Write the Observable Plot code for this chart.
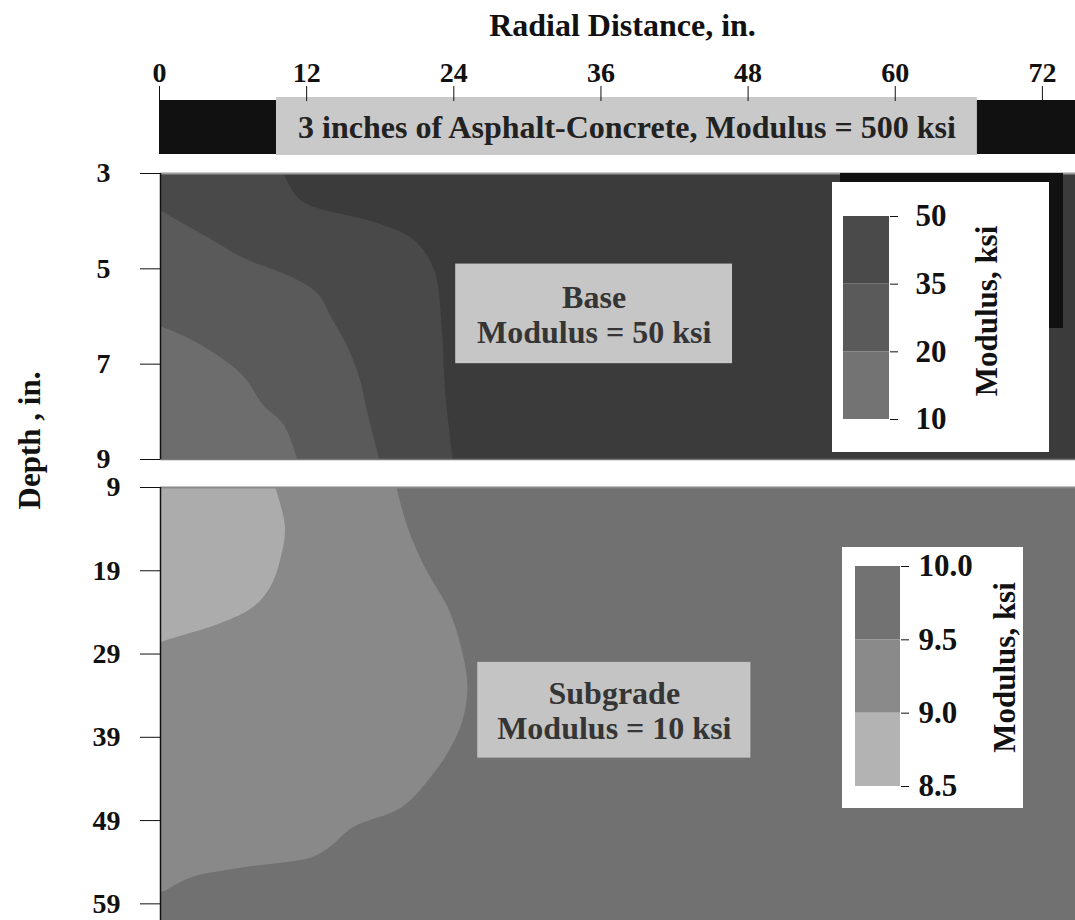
<!DOCTYPE html>
<html>
<head>
<meta charset="utf-8">
<script src="https://cdn.jsdelivr.net/npm/d3@7"></script>
<script src="https://cdn.jsdelivr.net/npm/@observablehq/plot@0.6"></script>
<style>
html, body { margin: 0; padding: 0; background: #fff; }
#chart { position: relative; width: 1075px; height: 920px; overflow: hidden; background: #fff; }
#chart > * { position: absolute; }
#chart svg { overflow: visible; }
#topPlot g[aria-label="x-axis tick label"],
#basePlot g[aria-label="y-axis tick label"],
#subPlot g[aria-label="y-axis tick label"] { font-size: 28px !important; font-weight: bold; }
#topPlot g[aria-label="x-axis tick label"] text,
#basePlot g[aria-label="y-axis tick label"] text,
#subPlot g[aria-label="y-axis tick label"] text { font-size: 28px !important; }
</style>
</head>
<body>
<div id="chart"></div>
<script>
// ---------- axes ----------
const radialTicks = [0, 12, 24, 36, 48, 60, 72];
const radialDomain = [0, 74.7];
const baseDepthTicks = [3, 5, 7, 9];
const baseDepthDomain = [3, 9];
const subDepthTicks = [9, 19, 29, 39, 49, 59];
const subDepthDomain = [9, 61];

// ---------- text ----------
const xTitle = "Radial Distance, in.";
const yTitle = "Depth , in.";
const asphaltLabel = "3 inches of Asphalt-Concrete, Modulus = 500 ksi";
const baseLabel = "Base\nModulus = 50 ksi";
const subLabel = "Subgrade\nModulus = 10 ksi";
const legendTitle = "Modulus, ksi";

// ---------- base layer contour boundaries (depth in., radial distance in.) ----------
const base50Depth  = [3.0, 3.57, 4.06, 4.42, 5.05, 6.25, 7.65, 9.0];
const base50Radial = [10.1, 11.5, 17.9, 20.8, 22.4, 23.0, 23.3, 23.9];
const base35Depth  = [3.78, 4.35, 4.77, 5.20, 5.54, 6.04, 6.59, 7.31, 8.0, 9.0];
const base35Radial = [0, 3.9, 6.7, 10.9, 12.9, 14.0, 15.2, 16.3, 16.9, 17.9];
const base20Depth  = [6.21, 6.53, 7.23, 7.86, 8.28, 9.0];
const base20Radial = [0, 2.8, 6.7, 8.4, 10.1, 11.2];

// ---------- subgrade contour boundaries ----------
const sub95Depth  = [9.0, 13.8, 18.6, 23.8, 29.0, 33.0, 37.0, 40.6, 44.2, 47.5, 49.9, 52.3, 53.5, 54.7, 55.9, 57.4, 57.7];
const sub95Radial = [19.3, 20.2, 21.6, 23.6, 24.7, 25.1, 24.7, 23.6, 21.9, 19.7, 15.7, 13.8, 12.3, 6.7, 2.5, 0.5, 0];
const sub90Depth  = [9.0, 13.8, 17.8, 21.0, 23.4, 25.3, 27.4, 27.7];
const sub90Radial = [9.4, 10.2, 9.8, 9.0, 7.6, 5.0, 0.5, 0];

// ---------- annotation boxes (data units) ----------
const asphaltBoxX = [9.54, 66.7];
const baseBoxX = [24.1, 46.7];
const baseBoxY = [4.9, 6.99];
const subBoxX = [25.9, 48.2];
const subBoxY = [30.0, 41.5];

// ---------- legends ----------
const baseLegendTicks = ["10", "20", "35", "50"];
const subLegendTicks = ["8.5", "9.0", "9.5", "10.0"];

// ---------- styles ----------
const baseFill = {c10: "#6d6d6d", c20: "#5a5a5a", c35: "#494949", c50: "#3b3b3b"};
const baseLegendFill = ["#737373", "#5a5a5a", "#4a4a4a"];
const subFill = {c85: "#acacac", c90: "#898989", c95: "#717171"};
const subLegendFill = ["#b3b3b3", "#8a8a8a", "#727272"];
const FONT = '"Liberation Serif", "Times New Roman", Times, serif';
const svgStyle = {fontFamily: FONT, fontWeight: "bold", color: "#111", background: "transparent", overflow: "visible"};

const pairs = (ys, xs) => ys.map((depth, i) => ({depth, radial: xs[i]}));
const chart = document.getElementById("chart");
function place(el, left, top, id) {
  el.style.position = "absolute";
  el.style.left = left + "px";
  el.style.top = top + "px";
  if (id) el.id = id;
  chart.appendChild(el);
}

// ---------- top axis + asphalt layer ----------
const topPlot = Plot.plot({
  width: 1075, height: 154,
  marginLeft: 159, marginRight: 0, marginTop: 100, marginBottom: 0,
  x: {domain: radialDomain},
  style: svgStyle,
  marks: [
    Plot.rect([radialDomain], {x1: d => d[0], x2: d => d[1], fill: "#111"}),
    Plot.rect([asphaltBoxX], {x1: d => d[0], x2: d => d[1], fill: "#c9c9c9", insetTop: -3, insetBottom: -1}),
    Plot.text([asphaltLabel], {x: (asphaltBoxX[0] + asphaltBoxX[1]) / 2, frameAnchor: "middle", fontSize: 32, fontWeight: "bold", fill: "#222", fontFamily: FONT}),
    Plot.axisX({anchor: "top", ticks: radialTicks, tickSize: 15, tickPadding: 4, fontSize: 28, fontWeight: "bold", fontFamily: FONT, label: null}),
    Plot.text([xTitle], {frameAnchor: "top", lineAnchor: "middle", dx: 5, dy: -75, fontSize: 32, fontWeight: "bold", fill: "#111", fontFamily: FONT})
  ]
});
place(topPlot, 0, 0, "topPlot");

// ---------- base panel ----------
const basePlot = Plot.plot({
  width: 1075, height: 286,
  marginLeft: 160, marginRight: 0, marginTop: 0, marginBottom: 0,
  x: {domain: radialDomain, axis: null},
  y: {domain: baseDepthDomain, reverse: true, axis: null},
  style: svgStyle,
  marks: [
    Plot.frame({fill: baseFill.c50}),
    Plot.areaX(pairs(base50Depth, base50Radial), {x: "radial", y: "depth", fill: baseFill.c35, curve: "catmull-rom", clip: true}),
    Plot.areaX(pairs(base35Depth, base35Radial), {x: "radial", y: "depth", fill: baseFill.c20, curve: "catmull-rom", clip: true}),
    Plot.areaX(pairs(base20Depth, base20Radial), {x: "radial", y: "depth", fill: baseFill.c10, curve: "catmull-rom", clip: true}),
    Plot.rect([baseLabel], {x1: baseBoxX[0], x2: baseBoxX[1], y1: baseBoxY[0], y2: baseBoxY[1], fill: "#c6c6c6"}),
    Plot.text([baseLabel], {x: (baseBoxX[0] + baseBoxX[1]) / 2, y: (baseBoxY[0] + baseBoxY[1]) / 2, fontSize: 32, lineHeight: 1.1, fontWeight: "bold", fill: "#353535", fontFamily: FONT}),
    Plot.ruleY([baseDepthDomain[0]], {stroke: "#9a9a9a", strokeWidth: 2}),
    Plot.ruleY([baseDepthDomain[1]], {stroke: "#777", strokeWidth: 1.5}),
    Plot.axisY({anchor: "left", ticks: baseDepthTicks, tickFormat: d => String(d), tickSize: 20, tickPadding: 30, fontSize: 28, fontWeight: "bold", fontFamily: FONT, label: null}),
    Plot.ruleX([0], {stroke: "#111", strokeWidth: 1.5}),
    Plot.text([yTitle], {frameAnchor: "left", textAnchor: "middle", dx: -130, dy: 124, rotate: -90, fontSize: 31, fontWeight: "bold", fill: "#111", fontFamily: FONT})
  ]
});
place(basePlot, 0, 173, "basePlot");

// dark frame behind base legend
const shadow = document.createElement("div");
shadow.style.width = "223px";
shadow.style.height = "155px";
shadow.style.background = "#111";
place(shadow, 840, 173);

// ---------- base legend ----------
const baseLegend = Plot.plot({
  width: 217, height: 270,
  marginLeft: 11, marginRight: 160, marginTop: 34, marginBottom: 33,
  x: {domain: [0, 1], axis: null},
  y: {domain: [0, baseLegendTicks.length - 1], axis: null},
  style: {...svgStyle, background: "#fff"},
  marks: [
    Plot.rect(baseLegendFill.map((fill, i) => ({lo: i, hi: i + 1, fill})), {x1: 0, x2: 1, y1: "lo", y2: "hi", fill: "fill"}),
    Plot.axisY({anchor: "right", ticks: d3.range(baseLegendTicks.length), tickFormat: i => baseLegendTicks[i], tickSize: 8, tickPadding: 18, fontSize: 31, fontWeight: "bold", fontFamily: FONT, label: null}),
    Plot.text([legendTitle], {frameAnchor: "middle", dx: 121, dy: -7, rotate: -90, fontSize: 31, fontWeight: "bold", fill: "#111", fontFamily: FONT})
  ]
});
place(baseLegend, 832, 182);

// ---------- subgrade panel ----------
const subPlot = Plot.plot({
  width: 1075, height: 433,
  marginLeft: 160, marginRight: 0, marginTop: 0, marginBottom: 0,
  x: {domain: radialDomain, axis: null},
  y: {domain: subDepthDomain, reverse: true, axis: null},
  style: svgStyle,
  marks: [
    Plot.frame({fill: subFill.c95}),
    Plot.areaX(pairs(sub95Depth, sub95Radial), {x: "radial", y: "depth", fill: subFill.c90, curve: "catmull-rom", clip: true}),
    Plot.areaX(pairs(sub90Depth, sub90Radial), {x: "radial", y: "depth", fill: subFill.c85, curve: "catmull-rom", clip: true}),
    Plot.rect([subLabel], {x1: subBoxX[0], x2: subBoxX[1], y1: subBoxY[0], y2: subBoxY[1], fill: "#c4c4c4"}),
    Plot.text([subLabel], {x: (subBoxX[0] + subBoxX[1]) / 2, y: (subBoxY[0] + subBoxY[1]) / 2, fontSize: 32, lineHeight: 1.1, fontWeight: "bold", fill: "#353535", fontFamily: FONT}),
    Plot.ruleY([subDepthDomain[0]], {stroke: "#8a8a8a", strokeWidth: 2}),
    Plot.axisY({anchor: "left", ticks: subDepthTicks, tickFormat: d => String(d), tickSize: 20, tickPadding: 20, fontSize: 28, fontWeight: "bold", fontFamily: FONT, label: null}),
    Plot.ruleX([0], {stroke: "#111", strokeWidth: 1.5})
  ]
});
place(subPlot, 0, 487, "subPlot");

// ---------- subgrade legend ----------
const subLegend = Plot.plot({
  width: 181, height: 261,
  marginLeft: 13, marginRight: 123, marginTop: 19, marginBottom: 22,
  x: {domain: [0, 1], axis: null},
  y: {domain: [0, subLegendTicks.length - 1], axis: null},
  style: {...svgStyle, background: "#fff"},
  marks: [
    Plot.rect(subLegendFill.map((fill, i) => ({lo: i, hi: i + 1, fill})), {x1: 0, x2: 1, y1: "lo", y2: "hi", fill: "fill"}),
    Plot.axisY({anchor: "right", ticks: d3.range(subLegendTicks.length), tickFormat: i => subLegendTicks[i], tickSize: 8, tickPadding: 10, fontSize: 31, fontWeight: "bold", fontFamily: FONT, label: null}),
    Plot.text([legendTitle], {frameAnchor: "middle", dx: 127, dy: -9, rotate: -90, fontSize: 31, fontWeight: "bold", fill: "#111", fontFamily: FONT})
  ]
});
place(subLegend, 842, 547);
</script>
</body>
</html>
